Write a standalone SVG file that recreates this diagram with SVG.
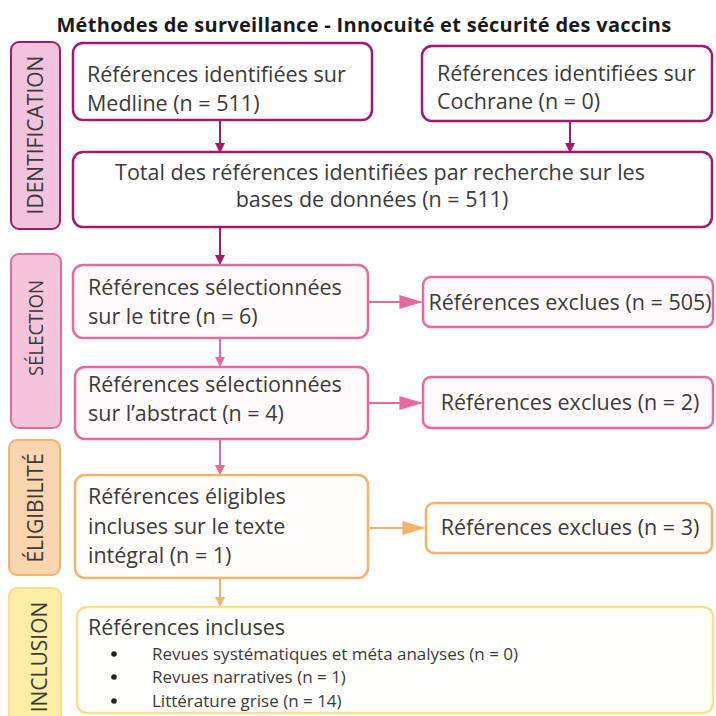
<svg xmlns="http://www.w3.org/2000/svg" width="716" height="716" viewBox="0 0 716 716">
<defs>
<style>
text{font-family:"Open Sans","Liberation Sans",sans-serif;fill:#3a3a3a}
.t{font-size:21.5px}
.title{font-size:20px;font-weight:bold;fill:#1a1a1a;letter-spacing:0.3px}
.side{font-size:21px}
.small{font-size:17px}
.bx{stroke-width:2.5}
.id{fill:#fff;stroke:#a3196e}
.se{fill:#fffafc;stroke:#e46c9c}
.el{fill:#fffdfa;stroke:#f4b36c}
.in{fill:#fffffb;stroke:#f7e18c}
</style>
<marker id="aId" viewBox="0 0 10 10" refX="9" refY="5" markerWidth="10" markerHeight="10" markerUnits="userSpaceOnUse" orient="auto"><path d="M0,0L10,5L0,10z" fill="#a3196e"/></marker>
<marker id="aSe" viewBox="0 0 10 10" refX="9" refY="5" markerWidth="10" markerHeight="10" markerUnits="userSpaceOnUse" orient="auto"><path d="M0,0L10,5L0,10z" fill="#e46c9c"/></marker>
<marker id="aSeL" viewBox="0 0 10 10" refX="9" refY="5" markerWidth="24" markerHeight="14" markerUnits="userSpaceOnUse" orient="auto" preserveAspectRatio="none"><path d="M0,0L10,5L0,10z" fill="#e46c9c"/></marker>
<marker id="aEl" viewBox="0 0 10 10" refX="9" refY="5" markerWidth="10" markerHeight="10" markerUnits="userSpaceOnUse" orient="auto"><path d="M0,0L10,5L0,10z" fill="#f4b36c"/></marker>
<marker id="aElL" viewBox="0 0 10 10" refX="9" refY="5" markerWidth="24" markerHeight="14" markerUnits="userSpaceOnUse" orient="auto" preserveAspectRatio="none"><path d="M0,0L10,5L0,10z" fill="#f4b36c"/></marker>
</defs>
<rect width="716" height="716" fill="#fff"/>
<text class="title" x="364" y="32" text-anchor="middle">Méthodes de surveillance - Innocuité et sécurité des vaccins</text>

<g id="phase-identification">
<rect x="11" y="42" width="49" height="187" rx="8" fill="#f2c3de" stroke="#a3196e" stroke-width="2"/>
<text class="side" transform="translate(43,135) rotate(-90)" text-anchor="middle">IDENTIFICATION</text>
</g>
<g id="phase-selection">
<rect x="11" y="254" width="50" height="174" rx="8" fill="#f6c5da" stroke="#e46c9c" stroke-width="2"/>
<text class="side" style="font-size:20px" transform="translate(43,328) rotate(-90)" text-anchor="middle" textLength="96" lengthAdjust="spacingAndGlyphs">SÉLECTION</text>
</g>
<g id="phase-eligibilite">
<rect x="9" y="440" width="51" height="135" rx="8" fill="#fad5ad" stroke="#f4b36c" stroke-width="2"/>
<text class="side" transform="translate(43,508) rotate(-90)" text-anchor="middle">ÉLIGIBILITÉ</text>
</g>
<g id="phase-inclusion">
<rect x="9" y="588" width="52" height="142" rx="8" fill="#fdf0a6" stroke="#f7e18c" stroke-width="2"/>
<text class="side" transform="translate(47,657) rotate(-90)" text-anchor="middle">INCLUSION</text>
</g>

<g id="connectors" fill="none" stroke-width="2">
<line x1="220" y1="120" x2="220" y2="152" stroke="#a3196e" marker-end="url(#aId)"/>
<line x1="570" y1="121" x2="570" y2="152" stroke="#a3196e" marker-end="url(#aId)"/>
<line x1="220" y1="227" x2="220" y2="264" stroke="#a3196e" marker-end="url(#aId)"/>
<line x1="220" y1="338" x2="220" y2="366" stroke="#e46c9c" marker-end="url(#aSe)"/>
<line x1="220" y1="439" x2="220" y2="474" stroke="#e46c9c" marker-end="url(#aSe)"/>
<line x1="220" y1="578" x2="220" y2="606" stroke="#f4b36c" marker-end="url(#aEl)"/>
<line x1="368" y1="302" x2="421" y2="302" stroke="#e46c9c" marker-end="url(#aSeL)"/>
<line x1="368" y1="403" x2="421" y2="403" stroke="#e46c9c" marker-end="url(#aSeL)"/>
<line x1="368" y1="528" x2="424" y2="528" stroke="#f4b36c" marker-end="url(#aElL)"/>
</g>

<g id="medline">
<rect class="bx id" x="73" y="43" width="299" height="77" rx="10"/>
<text class="t" x="87" y="82">Références identifiées sur</text>
<text class="t" x="87" y="111">Medline (n = 511)</text>
</g>
<g id="cochrane">
<rect class="bx id" x="422" y="46" width="290" height="75" rx="10"/>
<text class="t" x="437" y="81">Références identifiées sur</text>
<text class="t" x="437" y="109">Cochrane (n = 0)</text>
</g>
<g id="total">
<rect class="bx id" x="73" y="152" width="639" height="75" rx="10"/>
<text class="t" x="380" y="180" text-anchor="middle">Total des références identifiées par recherche sur les</text>
<text class="t" x="372" y="207" text-anchor="middle">bases de données (n = 511)</text>
</g>
<g id="titre">
<rect class="bx se" x="73" y="265" width="295" height="73" rx="10"/>
<text class="t" x="88" y="295">Références sélectionnées</text>
<text class="t" x="88" y="324">sur le titre (n = 6)</text>
</g>
<g id="excl505">
<rect class="bx se" x="423" y="277" width="290" height="50" rx="8"/>
<text class="t" x="570" y="310" text-anchor="middle">Références exclues (n = 505)</text>
</g>
<g id="abstract">
<rect class="bx se" x="75" y="367" width="293" height="72" rx="10"/>
<text class="t" x="88" y="392">Références sélectionnées</text>
<text class="t" x="88" y="421">sur l’abstract (n = 4)</text>
</g>
<g id="excl2">
<rect class="bx se" x="423" y="377" width="290" height="51" rx="8"/>
<text class="t" x="570" y="410" text-anchor="middle">Références exclues (n = 2)</text>
</g>
<g id="eligibles">
<rect class="bx el" x="75" y="475" width="293" height="103" rx="10"/>
<text class="t" x="88" y="504">Références éligibles</text>
<text class="t" x="88" y="534">incluses sur le texte</text>
<text class="t" x="88" y="563">intégral (n = 1)</text>
</g>
<g id="excl3">
<rect class="bx el" x="426" y="503" width="286" height="50" rx="8"/>
<text class="t" x="570" y="535" text-anchor="middle">Références exclues (n = 3)</text>
</g>
<g id="incluses">
<rect class="bx in" x="77" y="607" width="636" height="106" rx="10"/>
<text class="t" x="88" y="635">Références incluses</text>
<circle cx="114" cy="654" r="2.8" fill="#222"/>
<circle cx="114" cy="677" r="2.8" fill="#222"/>
<circle cx="114" cy="701" r="2.8" fill="#222"/>
<text class="small" x="152" y="660">Revues systématiques et méta analyses (n = 0)</text>
<text class="small" x="152" y="683">Revues narratives (n = 1)</text>
<text class="small" x="152" y="707">Littérature grise (n = 14)</text>
</g>
</svg>
